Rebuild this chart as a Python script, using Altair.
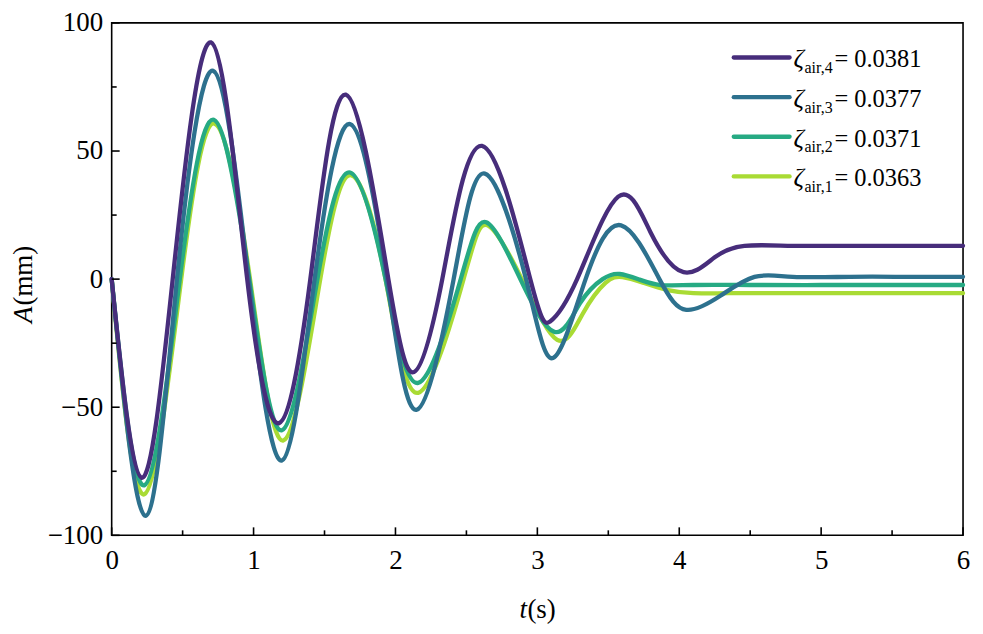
import altair as alt
import pandas as pd

# ---- data ----
series_names = ["ζair,1", "ζair,2", "ζair,3", "ζair,4"]
legend_subs = ["air,1", "air,2", "air,3", "air,4"]
legend_vals = ["= 0.0363", "= 0.0371", "= 0.0377", "= 0.0381"]
colors = ["#a9db34", "#26aa83", "#2d718e", "#472d7b"]

t1 = [0, 0.23, 0.49, 0.725, 0.975, 1.21, 1.47, 1.69, 1.93, 2.16, 2.48, 2.65, 2.89, 3.14, 3.32, 3.48, 3.60, 3.75, 3.92, 4.10, 4.35, 4.8, 5.4, 6.0]
a1 = [0, -84.0, 0, 60.7, 0, -63.0, 0, 40.5, 0, -44.4, 0, 21.0, 0, -23.7, -13.5, -1.5, 0.8, -1.5, -4.3, -5.5, -5.5, -5.5, -5.5, -5.5]

t2 = [0, 0.23, 0.48, 0.72, 0.97, 1.20, 1.45, 1.68, 1.93, 2.16, 2.46, 2.64, 2.88, 3.12, 3.30, 3.46, 3.58, 3.72, 3.87, 4.1, 4.5, 5.0, 5.5, 6.0]
a2 = [0, -80.5, 0, 62.2, 0, -59.0, 0, 41.6, 0, -40.5, 0, 22.2, 0, -20.6, -9.5, 0, 2.0, -0.2, -2.3, -2.3, -2.3, -2.3, -2.3, -2.3]

t3 = [0, 0.24, 0.46, 0.715, 0.965, 1.20, 1.43, 1.68, 1.94, 2.15, 2.41, 2.63, 2.92, 3.11, 3.34, 3.59, 3.86, 4.05, 4.29, 4.53, 4.8, 5.2, 5.6, 6.0]
a3 = [0, -92.4, 0, 81.3, 0, -70.8, 0, 60.5, 0, -51.0, 0, 41.2, 0, -30.8, 0, 21.0, 0, -12.0, -6.5, 0.9, 0.9, 0.9, 0.9, 0.9]

t4 = [0, 0.21, 0.43, 0.70, 0.955, 1.18, 1.40, 1.65, 1.95, 2.13, 2.33, 2.61, 2.95, 3.09, 3.28, 3.57, 3.80, 4.03, 4.25, 4.46, 4.8, 5.2, 5.6, 6.0]
a4 = [0, -77.5, 0, 92.4, 0, -56.2, 0, 72.0, 0, -36.3, 0, 52.0, 0, -16.5, 0, 32.2, 18.0, 2.7, 8.5, 13.0, 13.0, 13.0, 13.0, 13.0]

x_major = [0, 1, 2, 3, 4, 5, 6]
x_minor = [0.5, 1.5, 2.5, 3.5, 4.5, 5.5]
y_major = [-100, -50, 0, 50, 100]
y_minor = [-75, -25, 25, 75]

FONT = "Liberation Serif"
W, H = 854, 514

xs = alt.Scale(domain=[0, 6], nice=False, zero=False)
ys = alt.Scale(domain=[-100, 100], nice=False, zero=False)

xaxis = alt.Axis(values=x_major, format="d", ticks=False, tickSize=0, domain=False, grid=False,
                 labelFont=FONT, labelFontSize=27, labelColor="black", labelPadding=12,
                 title=None, labelFlush=False)
yaxis = alt.Axis(values=y_major, format="d", ticks=False, tickSize=0, domain=False, grid=False,
                 labelFont=FONT, labelFontSize=27, labelColor="black", labelPadding=9,
                 title=None, labelFlush=False)

layers = []
all_t = [t1, t2, t3, t4]
all_a = [a1, a2, a3, a4]
for i in range(4):
    df = pd.DataFrame({"t": all_t[i], "a": all_a[i], "s": series_names[i]})
    enc_x = alt.X("t:Q", scale=xs, axis=xaxis) if i == 0 else alt.X("t:Q", scale=xs)
    enc_y = alt.Y("a:Q", scale=ys, axis=yaxis) if i == 0 else alt.Y("a:Q", scale=ys)
    layers.append(
        alt.Chart(df).mark_line(interpolate="natural", strokeWidth=4.3, color=colors[i], strokeCap="round")
        .encode(x=enc_x, y=enc_y)
    )

# inward ticks
for vals, ln in [(x_major, 8), (x_minor, 5)]:
    d = pd.DataFrame({"t": vals})
    layers.append(alt.Chart(d).mark_rule(color="black", strokeWidth=1.6).encode(
        x=alt.X("t:Q", scale=xs), y=alt.value(H), y2=alt.value(H - ln)))
for vals, ln in [(y_major, 8), (y_minor, 5)]:
    d = pd.DataFrame({"a": vals})
    layers.append(alt.Chart(d).mark_rule(color="black", strokeWidth=1.6).encode(
        y=alt.Y("a:Q", scale=ys), x=alt.value(0), x2=alt.value(ln)))

# legend (top-right), order: 4,3,2,1
row_y = [34.7, 74.5, 114.2, 154.0]
for r, i in enumerate([3, 2, 1, 0]):
    ld = pd.DataFrame({"z": ["ζ"], "sub": [legend_subs[i]], "val": [legend_vals[i]]})
    y0 = row_y[r]
    layers.append(alt.Chart(ld).mark_rule(color=colors[i], strokeWidth=4.3, strokeCap="round").encode(
        x=alt.value(624), x2=alt.value(680), y=alt.value(y0)))
    layers.append(alt.Chart(ld).mark_text(font=FONT, fontSize=26, fontStyle="italic",
                                          align="left", baseline="alphabetic", color="black").encode(
        text="z:N", x=alt.value(684), y=alt.value(y0 + 10)))
    layers.append(alt.Chart(ld).mark_text(font=FONT, fontSize=16, align="left",
                                          baseline="alphabetic", color="black").encode(
        text="sub:N", x=alt.value(695), y=alt.value(y0 + 15.5)))
    layers.append(alt.Chart(ld).mark_text(font=FONT, fontSize=24.5, align="left",
                                          baseline="alphabetic", color="black").encode(
        text="val:N", x=alt.value(725), y=alt.value(y0 + 10)))

# axis titles with italic symbols
td = pd.DataFrame({"k": [0], "a": ["A"], "mm": ["(mm)"], "t": ["t"], "s": ["(s)"]})
layers.append(alt.Chart(td).mark_text(font=FONT, fontSize=27, fontStyle="italic", angle=270,
                                      align="left", baseline="alphabetic", color="black").encode(
    text="a:N", x=alt.value(-80), y=alt.value(301)))
layers.append(alt.Chart(td).mark_text(font=FONT, fontSize=27, angle=270,
                                      align="left", baseline="alphabetic", color="black").encode(
    text="mm:N", x=alt.value(-80), y=alt.value(283.5)))
layers.append(alt.Chart(td).mark_text(font=FONT, fontSize=27, fontStyle="italic",
                                      align="left", baseline="alphabetic", color="black").encode(
    text="t:N", x=alt.value(409), y=alt.value(597)))
layers.append(alt.Chart(td).mark_text(font=FONT, fontSize=27,
                                      align="left", baseline="alphabetic", color="black").encode(
    text="s:N", x=alt.value(417), y=alt.value(597)))

chart = alt.layer(*layers).properties(
    width=W, height=H,
    autosize=alt.AutoSizeParams(type="none"),
    padding={"left": 104, "top": 14, "right": 12, "bottom": 92},
).configure(background="white", font=FONT).configure_view(stroke="black", strokeWidth=1.6)

chart.save("out.html", embed_options={"renderer": "svg", "actions": False})
